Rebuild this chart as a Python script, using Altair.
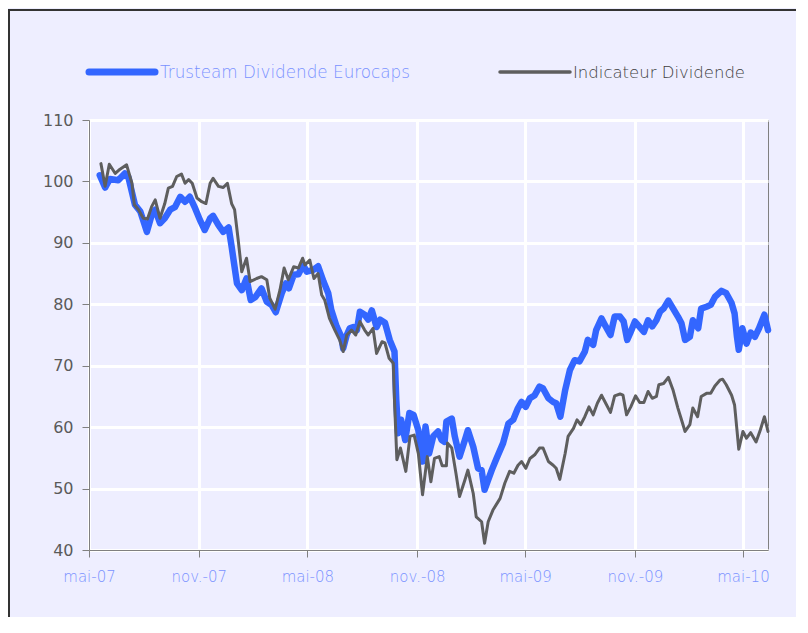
import altair as alt
import pandas as pd

series_names = ["Trusteam Dividende Eurocaps", "Indicateur Dividende"]

blue_dates = [
    "2007-05-19", "2007-05-28", "2007-06-05", "2007-06-19", "2007-06-30", "2007-07-06", "2007-07-17", "2007-07-26",
    "2007-08-06", "2007-08-14", "2007-08-20", "2007-08-28", "2007-09-05", "2007-09-14", "2007-09-22", "2007-10-01",
    "2007-10-09", "2007-10-17", "2007-10-26", "2007-11-03", "2007-11-11", "2007-11-20", "2007-11-25", "2007-12-04",
    "2007-12-12", "2007-12-21", "2007-12-26", "2008-01-04", "2008-01-12", "2008-01-20", "2008-01-27", "2008-02-04",
    "2008-02-14", "2008-02-23", "2008-03-02", "2008-03-09", "2008-03-19", "2008-03-26", "2008-03-31", "2008-04-08",
    "2008-04-16", "2008-04-24", "2008-04-30", "2008-05-11", "2008-05-19", "2008-05-28", "2008-06-05", "2008-06-10",
    "2008-06-19", "2008-06-27", "2008-06-30", "2008-07-06", "2008-07-11", "2008-07-17", "2008-07-23", "2008-07-28",
    "2008-08-05", "2008-08-11", "2008-08-17", "2008-08-25", "2008-08-31", "2008-09-08", "2008-09-16", "2008-09-24",
    "2008-09-27", "2008-09-30", "2008-10-05", "2008-10-12", "2008-10-19", "2008-10-26", "2008-11-03", "2008-11-10",
    "2008-11-15", "2008-11-21", "2008-11-28", "2008-12-06", "2008-12-12", "2008-12-17", "2008-12-20", "2008-12-29",
    "2009-01-03", "2009-01-11", "2009-01-20", "2009-01-25", "2009-02-03", "2009-02-11", "2009-02-17", "2009-02-22",
    "2009-02-28", "2009-03-06", "2009-03-14", "2009-03-25", "2009-04-03", "2009-04-11", "2009-04-19", "2009-04-25",
    "2009-05-02", "2009-05-09", "2009-05-17", "2009-05-25", "2009-05-31", "2009-06-09", "2009-06-17", "2009-06-22",
    "2009-06-29", "2009-07-07", "2009-07-15", "2009-07-23", "2009-07-31", "2009-08-09", "2009-08-14", "2009-08-23",
    "2009-08-28", "2009-09-06", "2009-09-13", "2009-09-21", "2009-09-28", "2009-10-07", "2009-10-13", "2009-10-19",
    "2009-10-24", "2009-11-01", "2009-11-08", "2009-11-16", "2009-11-23", "2009-11-30", "2009-12-07", "2009-12-13",
    "2009-12-19", "2009-12-27", "2010-01-04", "2010-01-12", "2010-01-18", "2010-01-24", "2010-02-01", "2010-02-06",
    "2010-02-15", "2010-02-20", "2010-03-01", "2010-03-08", "2010-03-15", "2010-03-26", "2010-04-03", "2010-04-12",
    "2010-04-17", "2010-04-21", "2010-04-24", "2010-04-30", "2010-05-07", "2010-05-14", "2010-05-21", "2010-05-28",
    "2010-06-06", "2010-06-12",
]
blue_values = [
    101.0, 99.0, 100.4, 100.2, 101.3, 100.7, 96.2, 95.1,
    91.8, 94.5, 95.4, 93.2, 94.0, 95.4, 95.8, 97.5,
    96.7, 97.5, 95.6, 93.7, 92.1, 94.0, 94.4, 92.9,
    91.8, 92.5, 89.4, 83.4, 82.3, 84.2, 80.7, 81.2,
    82.6, 80.4, 79.9, 78.7, 81.8, 83.4, 82.6, 84.8,
    84.9, 86.4, 85.3, 85.6, 86.2, 83.7, 81.8, 79.1,
    76.4, 74.7, 72.8, 75.0, 76.1, 76.3, 75.8, 78.8,
    78.3, 77.5, 79.0, 76.3, 77.5, 77.0, 74.2, 72.3,
    64.4, 59.0, 61.2, 57.9, 62.3, 62.0, 59.5, 54.4,
    60.1, 55.7, 58.5, 59.3, 57.9, 57.6, 60.9, 61.4,
    58.5, 55.2, 57.9, 59.5, 56.8, 53.3, 53.0, 49.8,
    51.4, 53.0, 54.9, 57.4, 60.6, 61.2, 63.1, 64.1,
    63.3, 64.7, 65.2, 66.6, 66.3, 64.7, 64.1, 63.9,
    61.7, 66.0, 69.3, 70.9, 70.7, 72.3, 74.2, 73.4,
    75.8, 77.7, 76.4, 75.0, 78.0, 78.0, 77.2, 74.2,
    75.3, 77.2, 76.4, 75.5, 77.4, 76.4, 77.4, 78.8,
    79.3, 80.6, 79.3, 78.0, 76.9, 74.2, 74.7, 77.4,
    76.1, 79.3, 79.6, 79.9, 81.2, 82.2, 81.8, 80.2,
    78.5, 74.7, 72.6, 76.1, 73.6, 75.4, 74.7, 76.1,
    78.3, 75.8,
]

gray_dates = [
    "2007-05-21", "2007-05-28", "2007-06-04", "2007-06-14", "2007-06-22", "2007-07-03", "2007-07-12", "2007-07-16",
    "2007-07-23", "2007-07-31", "2007-08-07", "2007-08-14", "2007-08-20", "2007-08-28", "2007-09-05", "2007-09-11",
    "2007-09-18", "2007-09-25", "2007-10-03", "2007-10-09", "2007-10-15", "2007-10-21", "2007-10-29", "2007-11-06",
    "2007-11-13", "2007-11-20", "2007-11-25", "2007-12-04", "2007-12-12", "2007-12-19", "2007-12-26", "2007-12-31",
    "2008-01-06", "2008-01-12", "2008-01-20", "2008-01-26", "2008-02-06", "2008-02-14", "2008-02-23", "2008-02-28",
    "2008-03-08", "2008-03-16", "2008-03-23", "2008-03-30", "2008-04-08", "2008-04-16", "2008-04-23", "2008-04-27",
    "2008-05-05", "2008-05-12", "2008-05-19", "2008-05-25", "2008-05-30", "2008-06-07", "2008-06-16", "2008-06-24",
    "2008-06-30", "2008-07-06", "2008-07-14", "2008-07-21", "2008-07-28", "2008-08-05", "2008-08-11", "2008-08-19",
    "2008-08-25", "2008-09-03", "2008-09-08", "2008-09-15", "2008-09-22", "2008-09-24", "2008-09-28", "2008-10-04",
    "2008-10-13", "2008-10-20", "2008-10-27", "2008-11-03", "2008-11-10", "2008-11-18", "2008-11-24", "2008-11-30",
    "2008-12-08", "2008-12-13", "2008-12-20", "2008-12-22", "2008-12-29", "2009-01-05", "2009-01-11", "2009-01-20",
    "2009-01-25", "2009-02-03", "2009-02-08", "2009-02-17", "2009-02-22", "2009-02-28", "2009-03-08", "2009-03-20",
    "2009-03-28", "2009-04-05", "2009-04-12", "2009-04-19", "2009-04-25", "2009-05-02", "2009-05-09", "2009-05-17",
    "2009-05-25", "2009-05-31", "2009-06-09", "2009-06-17", "2009-06-22", "2009-06-28", "2009-07-07", "2009-07-12",
    "2009-07-21", "2009-07-27", "2009-08-02", "2009-08-09", "2009-08-16", "2009-08-23", "2009-08-30", "2009-09-06",
    "2009-09-13", "2009-09-21", "2009-09-28", "2009-10-07", "2009-10-12", "2009-10-18", "2009-10-25", "2009-11-02",
    "2009-11-09", "2009-11-16", "2009-11-23", "2009-11-30", "2009-12-07", "2009-12-11", "2009-12-19", "2009-12-27",
    "2010-01-04", "2010-01-12", "2010-01-18", "2010-01-24", "2010-02-01", "2010-02-06", "2010-02-14", "2010-02-20",
    "2010-03-01", "2010-03-08", "2010-03-15", "2010-03-24", "2010-03-28", "2010-04-03", "2010-04-12", "2010-04-17",
    "2010-04-21", "2010-04-24", "2010-05-01", "2010-05-07", "2010-05-14", "2010-05-23", "2010-05-30", "2010-06-06",
    "2010-06-12",
]
gray_values = [
    102.9, 99.2, 102.8, 101.3, 102.0, 102.7, 99.7, 96.2,
    95.4, 94.0, 93.9, 95.9, 97.0, 94.0, 96.4, 98.9,
    99.2, 100.8, 101.2, 99.7, 100.3, 99.7, 97.3, 96.7,
    96.4, 99.7, 100.5, 99.2, 99.0, 99.7, 96.4, 95.4,
    90.5, 85.3, 87.5, 83.7, 84.2, 84.5, 84.0, 81.0,
    79.2, 82.3, 85.9, 84.0, 86.1, 85.9, 87.5, 86.4,
    87.2, 84.2, 85.0, 81.5, 80.7, 77.7, 75.8, 74.2,
    72.3, 75.0, 75.8, 75.0, 77.2, 75.8, 75.0, 76.1,
    72.0, 73.9, 73.7, 71.2, 70.4, 64.4, 54.7, 56.6,
    52.8, 58.5, 58.7, 55.7, 49.0, 55.2, 51.1, 54.9,
    55.2, 53.7, 53.7, 57.4, 56.6, 52.5, 48.7, 51.4,
    53.0, 49.2, 45.4, 44.6, 41.1, 44.6, 46.5, 48.4,
    50.9, 52.8, 52.5, 53.8, 54.4, 53.3, 54.9, 55.5,
    56.6, 56.6, 54.4, 53.8, 53.3, 51.5, 55.7, 58.5,
    59.8, 61.2, 60.4, 61.7, 63.3, 62.0, 63.9, 65.2,
    63.9, 62.4, 65.1, 65.4, 65.2, 62.0, 63.3, 65.1,
    64.0, 64.0, 65.8, 64.7, 65.0, 66.9, 67.1, 68.1,
    66.0, 63.1, 61.2, 59.3, 60.4, 63.1, 61.7, 65.0,
    65.5, 65.5, 66.7, 67.7, 67.8, 66.9, 65.2, 63.6,
    59.5, 56.4, 59.3, 58.2, 59.1, 57.6, 59.5, 61.7,
    59.3,
]

x_tick_dates = ["2007-05-01", "2007-11-01", "2008-05-01", "2008-11-01",
                "2009-05-01", "2009-11-01", "2010-05-01"]
x_tick_labels = ["mai-07", "nov.-07", "mai-08", "nov.-08", "mai-09", "nov.-09", "mai-10"]
y_ticks = [40, 50, 60, 70, 80, 90, 100, 110]
x_domain = ["2007-05-01", "2010-06-12"]

BLUE = "#3366FF"
GRAY = "#5E5E5E"
LIGHT_BLUE = "#7A92FF"
BG = "#EEEEFF"
FONT = "DejaVu Sans"

W, H = 679, 430


def dt(s):
    t = pd.Timestamp(s)
    return alt.DateTime(year=t.year, month=t.month, date=t.day, utc=True)


label_expr = "".join(
    f"utcFormat(datum.value, '%Y-%m-%d') == '{d}' ? '{l}' : " for d, l in zip(x_tick_dates, x_tick_labels)
) + "''"

x_enc = alt.X(
    "date:T",
    scale=alt.Scale(type="utc", domain=[dt(x_domain[0]), dt(x_domain[1])]),
    axis=alt.Axis(
        values=[dt(d) for d in x_tick_dates],
        labelExpr=label_expr,
        labelFlush=False,
        labelOverlap=False,
        title=None,
        grid=True,
        gridColor="white",
        gridWidth=3,
        domainColor="#808080",
        tickColor="#808080",
        tickSize=7,
        labelPadding=12,
        labelColor=LIGHT_BLUE,
        labelFont=FONT,
        labelFontSize=15,
        labelFontWeight=200,
        labelAngle=0,
    ),
)
y_enc = alt.Y(
    "value:Q",
    scale=alt.Scale(domain=[40, 110], nice=False, zero=False),
    axis=alt.Axis(
        values=y_ticks,
        title=None,
        grid=True,
        gridColor="white",
        gridWidth=3,
        domainColor="#808080",
        tickColor="#808080",
        tickSize=7,
        labelPadding=9,
        labelColor="#5A5A5A",
        labelFont=FONT,
        labelFontSize=16,
    ),
)

blue_df = pd.DataFrame({"date": blue_dates, "value": blue_values})
gray_df = pd.DataFrame({"date": gray_dates, "value": gray_values})

blue_line = alt.Chart(blue_df).mark_line(
    color=BLUE, strokeWidth=6.5, strokeJoin="round", strokeCap="round"
).encode(x=x_enc, y=y_enc)

gray_line = alt.Chart(gray_df).mark_line(
    color=GRAY, strokeWidth=3, strokeJoin="round", strokeCap="round"
).encode(x="date:T", y="value:Q")

one_blue = pd.DataFrame({"label": [series_names[0]]})
one_gray = pd.DataFrame({"label": [series_names[1]]})

leg_blue_sym = alt.Chart(one_blue).mark_rule(color=BLUE, strokeWidth=7, strokeCap="round").encode(
    x=alt.value(0), x2=alt.value(66), y=alt.value(-48))
leg_blue_txt = alt.Chart(one_blue).mark_text(
    align="left", baseline="middle", font=FONT, fontSize=16.8, fontWeight=200, color=LIGHT_BLUE
).encode(text="label:N", x=alt.value(71), y=alt.value(-47))
leg_gray_sym = alt.Chart(one_gray).mark_rule(color=GRAY, strokeWidth=3.5, strokeCap="round").encode(
    x=alt.value(411), x2=alt.value(481), y=alt.value(-48))
leg_gray_txt = alt.Chart(one_gray).mark_text(
    align="left", baseline="middle", font=FONT, fontSize=16.5, fontWeight=200, color="#404040"
).encode(text="label:N", x=alt.value(484), y=alt.value(-47))

frame_left = alt.Chart(one_blue).mark_rule(color="#333333", strokeWidth=2).encode(
    x=alt.value(-80), y=alt.value(-111), y2=alt.value(H + 80))
frame_top = alt.Chart(one_blue).mark_rule(color="#333333", strokeWidth=2).encode(
    x=alt.value(-81), x2=alt.value(W + 40), y=alt.value(-110))

chart = alt.layer(
    blue_line, gray_line, leg_blue_sym, leg_blue_txt, leg_gray_sym, leg_gray_txt, frame_left, frame_top
).properties(
    width=W,
    height=H,
    autosize=alt.AutoSizeParams(type="none"),
    padding={"left": 81, "top": 112, "right": 28, "bottom": 67},
    background=BG,
).configure_view(
    fill=BG, stroke="#808080", strokeWidth=1
)

chart.save("out.html", embed_options={"renderer": "svg", "actions": False})
